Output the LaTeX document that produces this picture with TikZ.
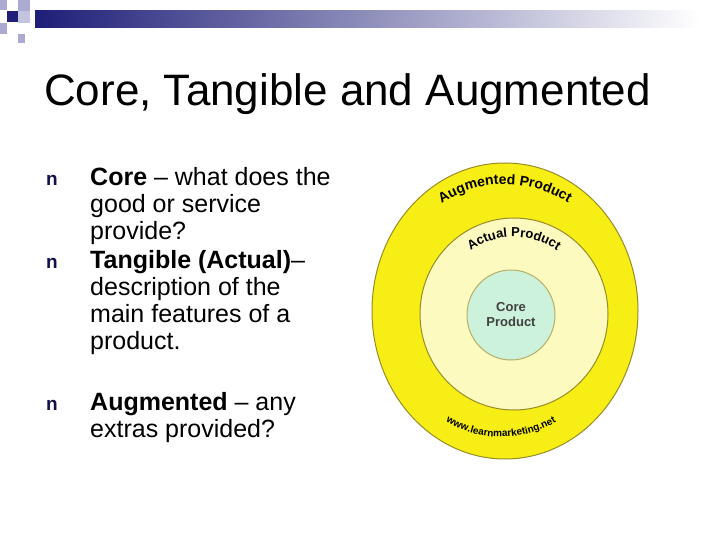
\documentclass[tikz,border=0pt]{standalone}
\usepackage{fontspec}
\setmainfont{Liberation Sans}
\usetikzlibrary{decorations.text}
\definecolor{navy}{RGB}{30,30,120}
\definecolor{lilac}{RGB}{170,170,210}
\definecolor{yel}{RGB}{246,238,20}
\definecolor{pale}{RGB}{252,250,190}
\definecolor{mint}{RGB}{200,240,215}
\definecolor{olive}{RGB}{150,140,40}
\tikzset{
  body/.style={anchor=base west,font=\fontsize{25}{27}\selectfont,inner sep=0pt},
  bul/.style={anchor=base west,font=\bfseries\fontsize{19}{20}\selectfont,inner sep=0pt,text=navy!60!black},
  ring/.style={draw=olive,line width=1pt},
  arctext/.style={decorate,decoration={text along path,text align=center,text={#1}}}
}
\begin{document}
\begin{tikzpicture}[x=1pt,y=-1pt]
\useasboundingbox (0,0) rectangle (720,540);
\fill[white] (0,0) rectangle (720,540);
% header decoration
\shade[left color=navy,right color=white] (35,11) rectangle (700,28);
\fill[lilac] (0,0) rectangle (7,10);
\fill[lilac] (18,0) rectangle (30,11);
\fill[navy] (7,11) rectangle (18,22);
\fill[lilac!70] (18,11) rectangle (30,23);
\fill[lilac] (0,23) rectangle (7,34);
\fill[lilac] (18,34) rectangle (25,43);
% title
\node[anchor=base west,inner sep=0pt,font=\fontsize{44}{48}\selectfont] (title) at (44,106) {Core, Tangible and Augmented};
% bullets
\node[bul] (b1) at (46,186) {n};
\node[bul] (b2) at (46,268) {n};
\node[bul] (b3) at (46,410) {n};
\node[body] (l1) at (90,186) {\textbf{Core} – what does the};
\node[body] (l2) at (90,213) {good or service};
\node[body] (l3) at (90,240) {provide?};
\node[body] (l4) at (90,268) {\textbf{Tangible (Actual)}–};
\node[body] (l5) at (90,295) {description of the};
\node[body] (l6) at (90,322) {main features of a};
\node[body] (l7) at (90,349) {product.};
\node[body] (l8) at (90,410) {\textbf{Augmented} – any};
\node[body] (l9) at (90,437) {extras provided?};
% circles
\draw[ring,fill=yel] (505,311) ellipse (133 and 148);
\draw[ring,fill=pale] (514,314) ellipse (94 and 96);
\draw[ring,fill=mint!90!white,draw=olive!70] (511,315) ellipse (44 and 45);
\node[font=\bfseries\fontsize{13}{15}\selectfont,align=center,text=black!75] (core) at (511,315) {Core\\Product};
\path[arctext={|\bfseries\fontsize{14}{15}\selectfont|Augmented Product}] (505,311) ++(205:122) arc[x radius=122,y radius=130,start angle=205,end angle=335];
\path[arctext={|\bfseries\fontsize{13}{14}\selectfont|Actual Product}] (514,314) ++(205:76) arc[x radius=76,y radius=78,start angle=205,end angle=335];
\path[arctext={|\bfseries\fontsize{10}{11}\selectfont|www.learnmarketing.net}] (505,311) ++(125:125) arc[x radius=118,y radius=130,start angle=125,end angle=55];
\end{tikzpicture}
\end{document}
